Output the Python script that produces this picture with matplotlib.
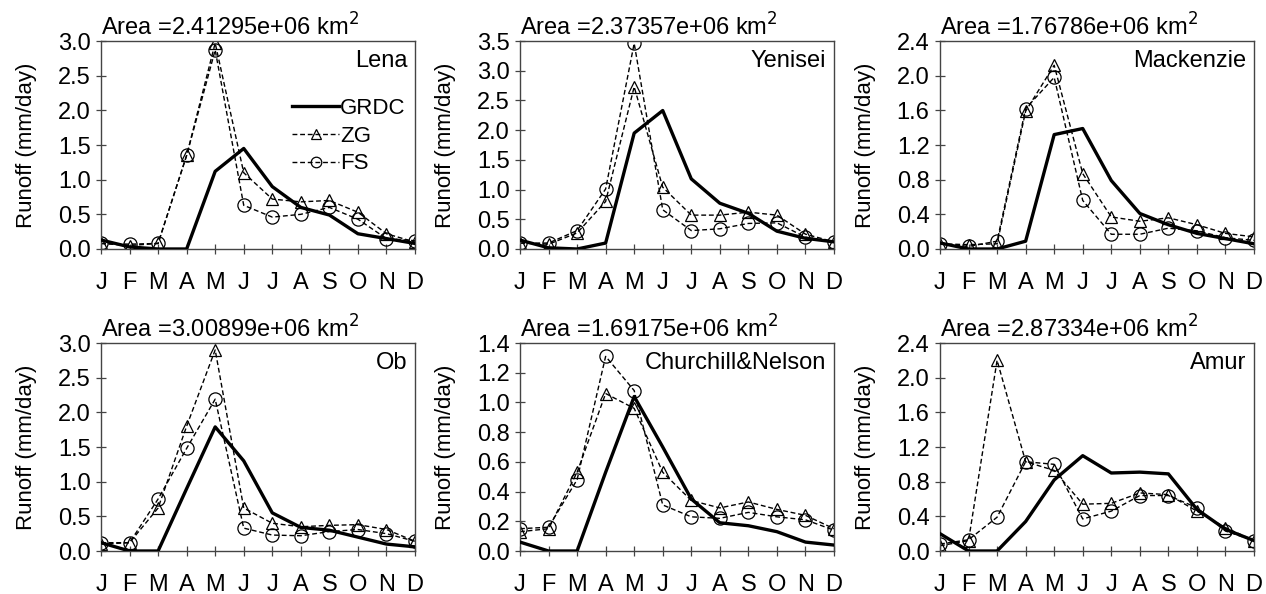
import matplotlib
matplotlib.use("Agg")
import matplotlib.pyplot as plt

plt.rcParams["font.family"] = ["Liberation Sans", "DejaVu Sans"]

MONTHS = ["J", "F", "M", "A", "M", "J", "J", "A", "S", "O", "N", "D"]

BASINS = ["Lena", "Yenisei", "Mackenzie", "Ob", "Churchill&Nelson", "Amur"]
AREAS = ["2.41295e+06", "2.37357e+06", "1.76786e+06", "3.00899e+06", "1.69175e+06", "2.87334e+06"]
YMAX = [3.0, 3.5, 2.4, 3.0, 1.4, 2.4]
YSTEP = [0.5, 0.5, 0.4, 0.5, 0.2, 0.4]

grdc_lena = [0.13, 0.03, 0.0, 0.0, 1.12, 1.45, 0.9, 0.6, 0.49, 0.22, 0.15, 0.08]
zg_lena = [0.08, 0.05, 0.08, 1.35, 2.97, 1.1, 0.72, 0.68, 0.7, 0.53, 0.22, 0.1]
fs_lena = [0.08, 0.07, 0.08, 1.35, 2.87, 0.63, 0.46, 0.5, 0.6, 0.43, 0.15, 0.12]

grdc_yenisei = [0.15, 0.02, 0.0, 0.1, 1.95, 2.33, 1.18, 0.77, 0.6, 0.3, 0.18, 0.12]
zg_yenisei = [0.1, 0.08, 0.27, 0.8, 2.73, 1.04, 0.57, 0.57, 0.62, 0.57, 0.25, 0.12]
fs_yenisei = [0.1, 0.1, 0.31, 1.01, 3.46, 0.66, 0.31, 0.34, 0.43, 0.44, 0.2, 0.12]

grdc_mackenzie = [0.07, 0.0, 0.0, 0.09, 1.32, 1.39, 0.79, 0.41, 0.28, 0.18, 0.12, 0.06]
zg_mackenzie = [0.06, 0.05, 0.06, 1.59, 2.12, 0.87, 0.37, 0.32, 0.36, 0.28, 0.18, 0.14]
fs_mackenzie = [0.06, 0.03, 0.09, 1.62, 1.98, 0.56, 0.17, 0.17, 0.24, 0.21, 0.13, 0.1]

grdc_ob = [0.12, 0.0, 0.0, 0.9, 1.79, 1.3, 0.55, 0.34, 0.3, 0.2, 0.1, 0.06]
zg_ob = [0.1, 0.12, 0.62, 1.8, 2.9, 0.62, 0.4, 0.35, 0.37, 0.38, 0.31, 0.14]
fs_ob = [0.12, 0.12, 0.75, 1.48, 2.19, 0.33, 0.23, 0.22, 0.28, 0.31, 0.25, 0.14]

grdc_churchill = [0.06, 0.0, 0.0, 0.53, 1.04, 0.7, 0.35, 0.19, 0.17, 0.13, 0.06, 0.04]
zg_churchill = [0.13, 0.15, 0.53, 1.06, 0.96, 0.53, 0.34, 0.29, 0.33, 0.28, 0.24, 0.15]
fs_churchill = [0.15, 0.16, 0.48, 1.31, 1.08, 0.31, 0.23, 0.22, 0.26, 0.23, 0.21, 0.14]

grdc_amur = [0.2, 0.0, 0.0, 0.34, 0.82, 1.1, 0.9, 0.91, 0.89, 0.48, 0.25, 0.12]
zg_amur = [0.06, 0.12, 2.2, 1.03, 0.93, 0.54, 0.55, 0.67, 0.65, 0.46, 0.27, 0.12]
fs_amur = [0.08, 0.13, 0.39, 1.03, 1.0, 0.37, 0.46, 0.64, 0.64, 0.5, 0.23, 0.12]

GRDC = [grdc_lena, grdc_yenisei, grdc_mackenzie, grdc_ob, grdc_churchill, grdc_amur]
ZG = [zg_lena, zg_yenisei, zg_mackenzie, zg_ob, zg_churchill, zg_amur]
FS = [fs_lena, fs_yenisei, fs_mackenzie, fs_ob, fs_churchill, fs_amur]

W, H = 1266, 594
COL_LEFT = [101, 520, 940]
ROW_TOP = [41, 343]
AX_W, AX_H = 314, 208

FRAME = "#444444"
DASH = (0, (3.5, 2))

fig = plt.figure(figsize=(W / 100, H / 100), dpi=100)

for idx, basin in enumerate(BASINS):
    r, c = divmod(idx, 3)
    left = COL_LEFT[c] / W
    bottom = 1 - (ROW_TOP[r] + AX_H) / H
    ax = fig.add_axes([left, bottom, AX_W / W, AX_H / H])
    x = list(range(12))

    ax.plot(x, GRDC[idx], color="black", lw=2.4, solid_joinstyle="round", label="GRDC", zorder=3)
    ax.plot(x, ZG[idx], color="black", lw=1.0, ls=DASH, marker="^", ms=9,
            mfc="none", mec="black", mew=0.9, label="ZG", zorder=2)
    ax.plot(x, FS[idx], color="black", lw=1.0, ls=DASH, marker="o", ms=9.5,
            mfc="none", mec="black", mew=0.9, label="FS", zorder=2)

    ax.set_xlim(0, 11)
    ax.set_ylim(0, YMAX[idx])
    n = int(round(YMAX[idx] / YSTEP[idx]))
    ax.set_yticks([YSTEP[idx] * k for k in range(n + 1)])
    ax.set_yticklabels([f"{YSTEP[idx] * k:.1f}" for k in range(n + 1)])
    ax.set_xticks(x)
    ax.set_xticklabels(MONTHS)
    ax.tick_params(axis="both", direction="inout", length=7, width=0.9, color=FRAME,
                   labelsize=17)
    ax.tick_params(axis="x", pad=13)
    ax.tick_params(axis="y", pad=4)
    for sp in ax.spines.values():
        sp.set_color(FRAME)
        sp.set_linewidth(1.0)

    ax.set_ylabel("Runoff (mm/day)", fontsize=16, labelpad=15)
    ax.set_title(f"Area ={AREAS[idx]} km$^2$", loc="left", fontsize=17, pad=3)
    ax.text(0.975, 0.955, basin, transform=ax.transAxes, ha="right", va="top", fontsize=17)

    if idx == 0:
        ax.legend(loc="upper right", bbox_to_anchor=(1.02, 0.80), frameon=False,
                  fontsize=16, handlelength=2.1, handletextpad=0.05, labelspacing=0.3,
                  borderaxespad=0.3, markerscale=0.8)

fig.savefig("out.png", dpi=100)
